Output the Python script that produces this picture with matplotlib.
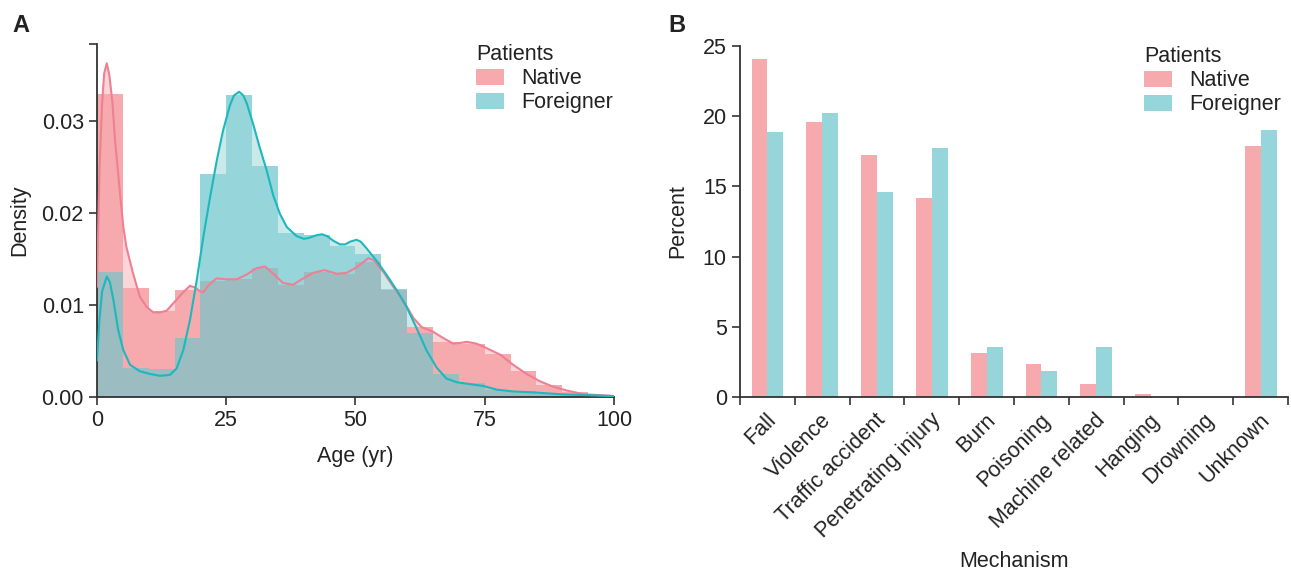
import numpy as np
import matplotlib
matplotlib.use("Agg")
from matplotlib import pyplot as plt
from matplotlib.patches import Patch
from matplotlib.transforms import ScaledTranslation

plt.rcParams['font.family'] = ['Liberation Sans', 'DejaVu Sans']
plt.rcParams['font.size'] = 15.5
plt.rcParams['text.color'] = '#222222'
plt.rcParams['axes.labelcolor'] = '#222222'
plt.rcParams['xtick.color'] = '#333333'
plt.rcParams['ytick.color'] = '#333333'
plt.rcParams['xtick.labelcolor'] = '#222222'
plt.rcParams['ytick.labelcolor'] = '#222222'

# ---- panel A: age histogram (density, 5-year bins) ----
bin_edges = np.arange(0, 105, 5)
native_hist = [0.0330, 0.0119, 0.0094, 0.0116, 0.0126, 0.0128, 0.0140, 0.0122, 0.0136, 0.0134,
               0.0147, 0.0116, 0.0076, 0.0060, 0.0058, 0.0047, 0.0028, 0.0013, 0.0005, 0.0002]
foreign_hist = [0.0136, 0.0031, 0.0030, 0.0064, 0.0243, 0.0329, 0.0251, 0.0178, 0.0176, 0.0164,
                0.0155, 0.0117, 0.0070, 0.0025, 0.0015, 0.0008, 0.0006, 0.0003, 0.0002, 0.0001]

native_kde_age = [0, 0.5, 1.0, 1.4, 1.9, 2.4, 3.0, 3.5, 4.45, 5.1, 5.7, 7.0, 8.3, 9.6, 10.9, 12.2,
                  13.5, 15.1, 16.7, 18.0, 19.0, 19.9, 20.6, 21.5, 23.1, 25.0, 27.0, 28.9, 30.8,
                  32.5, 34.1, 36.0, 37.9, 39.9, 41.8, 44.0, 46.4, 48.3, 50.2, 52.5, 53.5, 55.4,
                  57.3, 59.2, 61.2, 62.8, 65.0, 67.0, 68.9, 70.5, 71.5, 73.4, 75.4, 78.0, 80.5,
                  83.1, 85.7, 88.3, 90.9, 94.1, 100]
native_kde = [0.0120, 0.0250, 0.0320, 0.0352, 0.0363, 0.0350, 0.0320, 0.0279, 0.0222, 0.0185,
              0.0163, 0.0134, 0.0109, 0.0098, 0.0092, 0.0092, 0.0094, 0.0104, 0.0114, 0.0121,
              0.0119, 0.0115, 0.0114, 0.0121, 0.0129, 0.0128, 0.0128, 0.0133, 0.0140, 0.0142,
              0.0134, 0.0124, 0.0122, 0.0129, 0.0135, 0.0138, 0.0134, 0.0135, 0.0141, 0.0151,
              0.0149, 0.0136, 0.0120, 0.0105, 0.0086, 0.0076, 0.0071, 0.0064, 0.0058, 0.0059,
              0.0060, 0.0058, 0.0053, 0.0046, 0.0035, 0.0025, 0.0017, 0.0011, 0.0007, 0.0003,
              0.0001]

foreign_kde_age = [0, 0.5, 1.0, 1.9, 2.5, 3.2, 4.1, 5.1, 6.4, 8.3, 10.3, 12.2, 14.1, 15.4, 16.7,
                   18.0, 19.3, 20.6, 21.9, 23.2, 24.4, 25.7, 26.5, 27.5, 28.3, 29.0, 30.2, 31.5,
                   32.8, 34.1, 35.4, 36.7, 38.6, 40.0, 41.0, 42.5, 43.5, 44.5, 45.7, 47.0, 48.0,
                   49.0, 50.2, 51.0, 52.1, 54.1, 56.0, 58.0, 59.9, 61.8, 63.8, 65.7, 67.6, 69.6,
                   72.1, 74.7, 77.3, 80.5, 84.4, 89.6, 94.7, 100]
foreign_kde = [0.0040, 0.0085, 0.0115, 0.0131, 0.0125, 0.0105, 0.0073, 0.0051, 0.0035, 0.0028,
               0.0025, 0.0023, 0.0024, 0.0031, 0.0051, 0.0084, 0.0127, 0.0175, 0.0218, 0.0258,
               0.0290, 0.0317, 0.0328, 0.0332, 0.0328, 0.0319, 0.0297, 0.0271, 0.0247, 0.0219,
               0.0199, 0.0185, 0.0175, 0.0172, 0.0173, 0.0176, 0.0177, 0.0175, 0.0170, 0.0166,
               0.0166, 0.0169, 0.0171, 0.0169, 0.0162, 0.0148, 0.0133, 0.0116, 0.0098, 0.0075,
               0.0050, 0.0032, 0.0020, 0.0016, 0.0014, 0.0012, 0.0008, 0.0006, 0.0005, 0.0003,
               0.0002, 0.0001]

# ---- panel B: mechanism of injury (percent) ----
mechanisms = ['Fall', 'Violence', 'Traffic accident', 'Penetrating injury', 'Burn',
              'Poisoning', 'Machine related', 'Hanging', 'Drowning', 'Unknown']
native_pct = [24.1, 19.6, 17.2, 14.2, 3.13, 2.35, 0.93, 0.21, 0.0, 17.9]
foreign_pct = [18.9, 20.2, 14.6, 17.7, 3.56, 1.85, 3.56, 0.0, 0.0, 19.0]

pink = '#f6aaad'
teal = '#96d5da'
overlap = '#9bbcc0'
pink_line = '#ef7f93'
teal_line = '#1db8bd'
pink_fill = '#fbd6d8'
teal_fill = '#cbe9e8'
spine_col = '#333333'

fig = plt.figure(figsize=(12.91, 5.73), dpi=100)
ax1 = fig.add_axes([0.0751, 0.3072, 0.4005, 0.6161])
ax2 = fig.add_axes([0.5732, 0.3072, 0.4245, 0.6126])

for ax in (ax1, ax2):
    ax.spines['top'].set_visible(False)
    ax.spines['right'].set_visible(False)
    for s in ('left', 'bottom'):
        ax.spines[s].set_color(spine_col)
        ax.spines[s].set_linewidth(1.3)
    ax.tick_params(which='both', direction='out', length=5.5, width=1.2, labelsize=15.5, pad=4)

# panel A
left = bin_edges[:-1]
ax1.fill_between(native_kde_age, native_kde, color=pink_fill, lw=0, zorder=1)
ax1.fill_between(foreign_kde_age, foreign_kde, color=teal_fill, lw=0, zorder=1)
ax1.bar(left, native_hist, width=5, align='edge', color=pink, lw=0, zorder=2)
ax1.bar(left, foreign_hist, width=5, align='edge', color=teal, lw=0, zorder=2)
ax1.bar(left, np.minimum(native_hist, foreign_hist), width=5, align='edge',
        color=overlap, lw=0, zorder=2)
ax1.plot(native_kde_age, native_kde, color=pink_line, lw=1.5, zorder=3)
ax1.plot(foreign_kde_age, foreign_kde, color=teal_line, lw=1.5, zorder=3)
ax1.set_xlim(0, 100)
ax1.set_ylim(0, 0.0384)
ax1.set_xticks([0, 25, 50, 75, 100])
ax1.set_yticks([0, 0.01, 0.02, 0.03])
ax1.set_yticklabels(['0.00', '0.01', '0.02', '0.03'])
ax1.set_yticks([0.0384], minor=True)
ax1.set_xlabel('Age (yr)', labelpad=10.5)
ax1.set_ylabel('Density', labelpad=8)

handles = [Patch(color=pink, lw=0), Patch(color=teal, lw=0)]
for ax, xa in ((ax1, 0.733), (ax2, 0.738)):
    ax.legend(handles, ['Native', 'Foreigner'], title='Patients', loc='upper left',
              bbox_to_anchor=(xa, 1.0), frameon=False, fontsize=15.5, title_fontsize=15.5,
              alignment='left', handlelength=1.3, handleheight=0.75, handletextpad=0.8,
              labelspacing=0.15, borderpad=0, borderaxespad=0)

# panel B
x = np.arange(len(mechanisms))
w = 0.29
ax2.bar(x - w / 2, native_pct, width=w, color=pink, lw=0)
ax2.bar(x + w / 2, foreign_pct, width=w, color=teal, lw=0)
ax2.set_xlim(-0.5, len(mechanisms) - 0.5)
ax2.set_ylim(0, 25)
ax2.set_yticks([0, 5, 10, 15, 20, 25])
ax2.set_xticks(np.arange(len(mechanisms) + 1) - 0.5)
ax2.set_xticklabels([])
ax2.set_xticks(x, mechanisms, minor=True)
ax2.tick_params(axis='x', which='minor', length=0, pad=9)
offset = ScaledTranslation(13 / 100, 0, fig.dpi_scale_trans)
for lab in ax2.get_xticklabels(minor=True):
    lab.set_rotation(45)
    lab.set_ha('right')
    lab.set_transform(lab.get_transform() + offset)
ax2.set_xlabel('Mechanism', labelpad=6)
ax2.set_ylabel('Percent', labelpad=10.5)

fig.text(12 / 1291, 1 - 32 / 573, 'A', fontsize=17, fontweight='bold', va='baseline')
fig.text(668 / 1291, 1 - 32 / 573, 'B', fontsize=17, fontweight='bold', va='baseline')

fig.savefig('out.png', dpi=100)
